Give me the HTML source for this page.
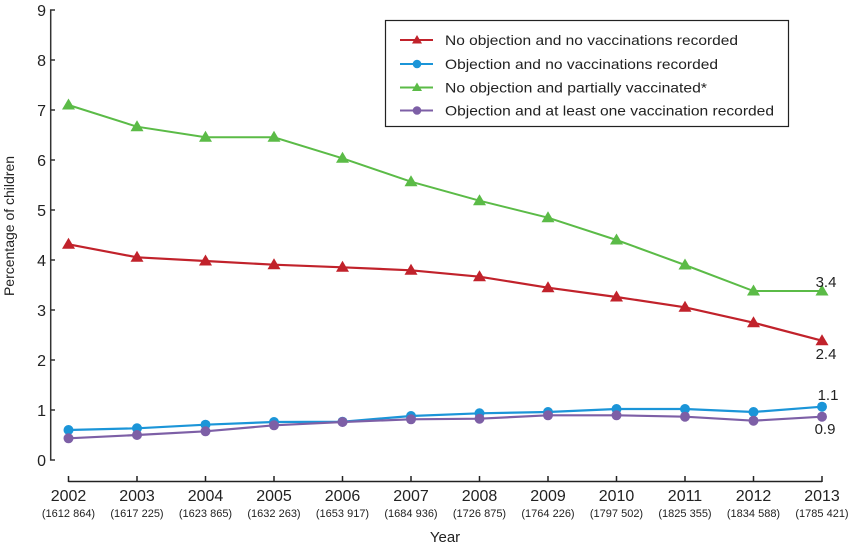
<!DOCTYPE html>
<html><head><meta charset="utf-8"><style>
html,body{margin:0;padding:0;background:#fff;}
svg{display:block;font-family:"Liberation Sans",sans-serif;}
</style></head><body>
<svg width="850" height="545" viewBox="0 0 850 545" xmlns="http://www.w3.org/2000/svg">
<defs>
<path id="tri" d="M0,-6.5 L6.5,4.5 L-6.5,4.5 Z"/>
<path id="trs" d="M0,-5 L5,3.5 L-5,3.5 Z"/>
</defs>
<!-- Y axis -->
<g stroke="#333" stroke-width="1.5" fill="none">
<path d="M55,10 H50.7 V460 H55"/>
<path d="M50.7,60 H55 M50.7,110 H55 M50.7,160 H55 M50.7,210 H55 M50.7,260 H55 M50.7,310 H55 M50.7,360 H55 M50.7,410 H55"/>
</g>
<g font-size="16" fill="#222" text-anchor="end">
<text x="46" y="16">9</text><text x="46" y="66">8</text><text x="46" y="116">7</text>
<text x="46" y="166">6</text><text x="46" y="216">5</text><text x="46" y="266">4</text>
<text x="46" y="316">3</text><text x="46" y="366">2</text><text x="46" y="416">1</text>
<text x="46" y="466">0</text>
</g>
<text transform="translate(14,226) rotate(-90)" font-size="14" fill="#222" text-anchor="middle">Percentage of children</text>
<!-- X axis -->
<g stroke="#222" stroke-width="1.5" fill="none">
<path d="M68.5,481.5 H822"/>
<path d="M68.5,476 V482 M137,476 V482 M205.5,476 V482 M274,476 V482 M342.5,476 V482 M411,476 V482 M479.5,476 V482 M548,476 V482 M616.5,476 V482 M685,476 V482 M753.5,476 V482 M822,476 V482"/>
</g>
<g font-size="16" fill="#222" text-anchor="middle">
<text x="68.5" y="501">2002</text><text x="137" y="501">2003</text><text x="205.5" y="501">2004</text>
<text x="274" y="501">2005</text><text x="342.5" y="501">2006</text><text x="411" y="501">2007</text>
<text x="479.5" y="501">2008</text><text x="548" y="501">2009</text><text x="616.5" y="501">2010</text>
<text x="685" y="501">2011</text><text x="753.5" y="501">2012</text><text x="822" y="501">2013</text>
</g>
<g font-size="11" fill="#222" text-anchor="middle">
<text x="68.5" y="517">(1612 864)</text><text x="137" y="517">(1617 225)</text><text x="205.5" y="517">(1623 865)</text>
<text x="274" y="517">(1632 263)</text><text x="342.5" y="517">(1653 917)</text><text x="411" y="517">(1684 936)</text>
<text x="479.5" y="517">(1726 875)</text><text x="548" y="517">(1764 226)</text><text x="616.5" y="517">(1797 502)</text>
<text x="685" y="517">(1825 355)</text><text x="753.5" y="517">(1834 588)</text><text x="822" y="517">(1785 421)</text>
</g>
<text x="445" y="542" font-size="15" fill="#222" text-anchor="middle">Year</text>

<!-- Red series -->
<polyline fill="none" stroke="#c1222b" stroke-width="2.2" points="68.5,244.3 137,257.3 205.5,261 274,264.7 342.5,267.3 411,270.3 479.5,276.7 548,287.7 616.5,297 685,307.3 753.5,322.7 822,340.7"/>
<g fill="#c1222b">
<use href="#tri" x="68.5" y="244.3"/><use href="#tri" x="137" y="257.3"/><use href="#tri" x="205.5" y="261"/>
<use href="#tri" x="274" y="264.7"/><use href="#tri" x="342.5" y="267.3"/><use href="#tri" x="411" y="270.3"/>
<use href="#tri" x="479.5" y="276.7"/><use href="#tri" x="548" y="287.7"/><use href="#tri" x="616.5" y="297"/>
<use href="#tri" x="685" y="307.3"/><use href="#tri" x="753.5" y="322.7"/><use href="#tri" x="822" y="340.7"/>
</g>
<!-- Blue series -->
<polyline fill="none" stroke="#1b95d8" stroke-width="2.2" points="68.5,430 137,428.3 205.5,424.7 274,422 342.5,421.7 411,416 479.5,413.3 548,412 616.5,409 685,409 753.5,412 822,406.7"/>
<g fill="#1b95d8">
<circle cx="68.5" cy="430" r="5"/><circle cx="137" cy="428.3" r="5"/><circle cx="205.5" cy="424.7" r="5"/>
<circle cx="274" cy="422" r="5"/><circle cx="342.5" cy="421.7" r="5"/><circle cx="411" cy="416" r="5"/>
<circle cx="479.5" cy="413.3" r="5"/><circle cx="548" cy="412" r="5"/><circle cx="616.5" cy="409" r="5"/>
<circle cx="685" cy="409" r="5"/><circle cx="753.5" cy="412" r="5"/><circle cx="822" cy="406.7" r="5"/>
</g>
<!-- Green series -->
<polyline fill="none" stroke="#5bbb47" stroke-width="2" points="68.5,105 137,126.7 205.5,137.3 274,137.3 342.5,158.3 411,181.7 479.5,200.7 548,217.7 616.5,240 685,265 753.5,291 822,291"/>
<g fill="#5bbb47">
<use href="#tri" x="68.5" y="105"/><use href="#tri" x="137" y="126.7"/><use href="#tri" x="205.5" y="137.3"/>
<use href="#tri" x="274" y="137.3"/><use href="#tri" x="342.5" y="158.3"/><use href="#tri" x="411" y="181.7"/>
<use href="#tri" x="479.5" y="200.7"/><use href="#tri" x="548" y="217.7"/><use href="#tri" x="616.5" y="240"/>
<use href="#tri" x="685" y="265"/><use href="#tri" x="753.5" y="291"/><use href="#tri" x="822" y="291"/>
</g>
<!-- Purple series -->
<polyline fill="none" stroke="#7d5fa6" stroke-width="2.2" points="68.5,438.3 137,435 205.5,431.3 274,425.3 342.5,422 411,419.3 479.5,418.7 548,415.3 616.5,415.3 685,416.7 753.5,420.7 822,416.7"/>
<g fill="#7d5fa6">
<circle cx="68.5" cy="438.3" r="5"/><circle cx="137" cy="435" r="5"/><circle cx="205.5" cy="431.3" r="5"/>
<circle cx="274" cy="425.3" r="5"/><circle cx="342.5" cy="422" r="5"/><circle cx="411" cy="419.3" r="5"/>
<circle cx="479.5" cy="418.7" r="5"/><circle cx="548" cy="415.3" r="5"/><circle cx="616.5" cy="415.3" r="5"/>
<circle cx="685" cy="416.7" r="5"/><circle cx="753.5" cy="420.7" r="5"/><circle cx="822" cy="416.7" r="5"/>
</g>
<!-- End labels -->
<g font-size="15" fill="#222" text-anchor="middle">
<text x="826" y="287">3.4</text>
<text x="826" y="359">2.4</text>
<text x="828" y="400">1.1</text>
<text x="825" y="434">0.9</text>
</g>

<!-- Legend -->
<rect x="385.5" y="20.5" width="403" height="106" fill="#fff" stroke="#222" stroke-width="1.2"/>
<g stroke-width="2">
<line x1="400" y1="40" x2="433" y2="40" stroke="#c1222b"/>
<line x1="400" y1="64" x2="433" y2="64" stroke="#1b95d8"/>
<line x1="400" y1="87.5" x2="433" y2="87.5" stroke="#5bbb47"/>
<line x1="400" y1="110.5" x2="433" y2="110.5" stroke="#7d5fa6"/>
</g>
<use href="#trs" x="417" y="40" fill="#c1222b"/>
<circle cx="417" cy="64" r="4.3" fill="#1b95d8"/>
<use href="#trs" x="417" y="87.5" fill="#5bbb47"/>
<circle cx="417" cy="110.5" r="4.3" fill="#7d5fa6"/>
<g font-size="14" fill="#222">
<text x="445" y="45" textLength="293" lengthAdjust="spacingAndGlyphs">No objection and no vaccinations recorded</text>
<text x="445" y="69" textLength="273" lengthAdjust="spacingAndGlyphs">Objection and no vaccinations recorded</text>
<text x="445" y="92.5" textLength="262" lengthAdjust="spacingAndGlyphs">No objection and partially vaccinated*</text>
<text x="445" y="115.5" textLength="329" lengthAdjust="spacingAndGlyphs">Objection and at least one vaccination recorded</text>
</g>
</svg>
</body></html>
